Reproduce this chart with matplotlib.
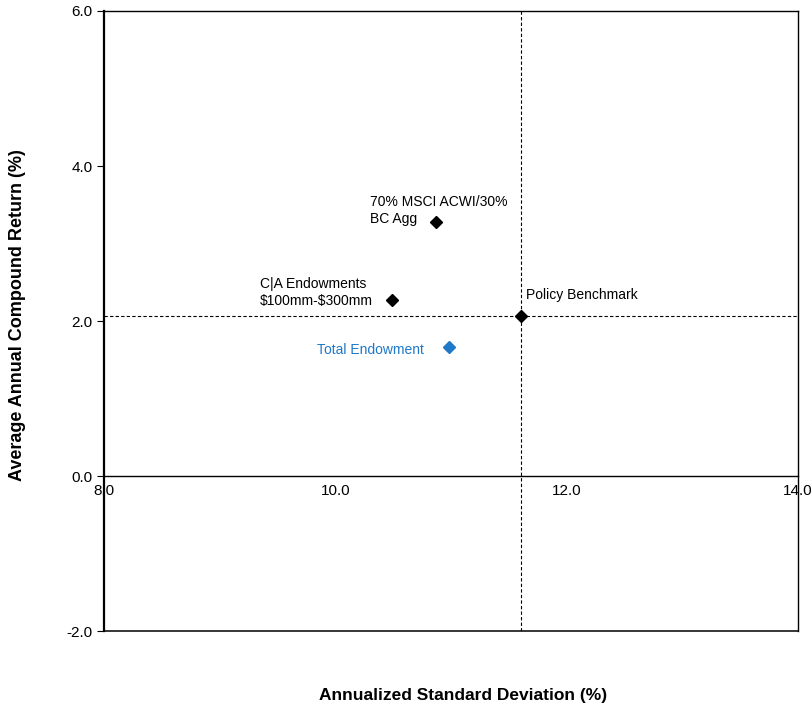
import numpy as np
import matplotlib.pyplot as plt

plt.rcParams['font.family'] = ['Liberation Sans', 'DejaVu Sans']

# risk / return points
names = ['70% MSCI ACWI/30%\nBC Agg', 'C|A Endowments\n\\$100mm-\\$300mm',
         'Total Endowment', 'Policy Benchmark']
std_dev = [10.87, 10.49, 10.98, 11.61]
returns = [3.28, 2.27, 1.67, 2.07]
colors = ['black', 'black', '#1f78c8', 'black']
label_offsets = [(-66, 11), (-132, 8), (-132, -3), (5, 21)]

x_ticks = [8.0, 10.0, 12.0, 14.0]
y_ticks = [-2.0, 0.0, 2.0, 4.0, 6.0]

fig = plt.figure(figsize=(8.11, 7.14), dpi=100)
ax = fig.add_axes([0.128, 0.116, 0.856, 0.8686])

ax.set_xlim(8, 14)
ax.set_ylim(-2, 6)

# crosshair through the policy benchmark
ax.axvline(std_dev[3], color='black', lw=0.8, dashes=(3, 2), zorder=1)
ax.axhline(returns[3], color='black', lw=0.8, dashes=(3, 2), zorder=1)

for x, y, c, name, off in zip(std_dev, returns, colors, names, label_offsets):
    ax.plot(x, y, marker='D', ms=6.5, color=c, ls='none', zorder=3)
    ax.annotate(name, (x, y), xytext=off, textcoords='offset pixels',
                ha='left', va='center', fontsize=10, color=c,
                linespacing=1.25)

# x axis sits on zero, bottom border drawn separately
ax.spines['bottom'].set_position(('data', 0))
ax.spines['bottom'].set_linewidth(1.0)
ax.axhline(-2, color='black', lw=1.1, clip_on=False)
ax.spines['left'].set_linewidth(1.6)
ax.spines['top'].set_linewidth(1.0)
ax.spines['right'].set_linewidth(1.0)

ax.set_xticks(x_ticks)
ax.set_xticklabels(['%.1f' % v for v in x_ticks])
ax.tick_params(axis='x', length=0, pad=6, labelsize=11)
ax.set_yticks(y_ticks)
ax.set_yticklabels(['%.1f' % v for v in y_ticks])
ax.tick_params(axis='y', length=5, width=0.8, pad=3, labelsize=11)

fig.text(0.571, 0.015, 'Annualized Standard Deviation (%)', ha='center',
         va='bottom', fontsize=12.5, fontweight='bold')
fig.text(0.022, 0.559, 'Average Annual Compound Return (%)', ha='center',
         va='center', rotation=90, fontsize=13, fontweight='bold')

fig.savefig('out.png', dpi=100)
